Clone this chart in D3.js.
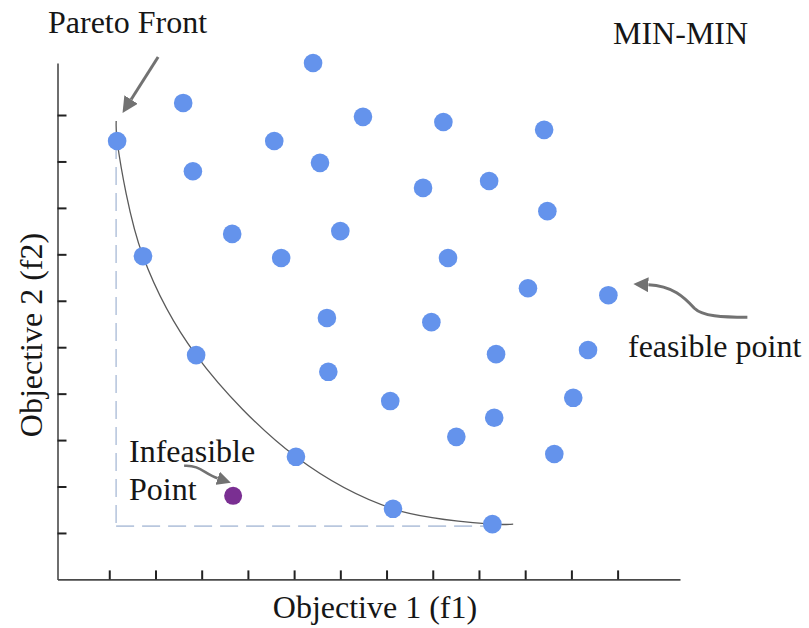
<!DOCTYPE html>
<html>
<head>
<meta charset="utf-8">
<script src="https://cdn.jsdelivr.net/npm/d3@7/dist/d3.min.js"></script>
<style>
  html, body { margin: 0; padding: 0; background: #ffffff; }
  svg { display: block; }
  text { font-family: "Liberation Serif", "Times New Roman", serif; fill: #161616; }
</style>
</head>
<body>
<svg id="chart" width="809" height="628"></svg>
<script>
// Pareto-optimal solutions (objective 1, objective 2)
const frontF1 = [1.17, 1.73, 2.88, 5.04, 7.14, 9.29];
const frontF2 = [9.44, 6.96, 4.83, 2.64, 1.52, 1.19];

// Ends of the drawn front curve, extending slightly beyond the solutions
const curveStartF1 = 1.15, curveStartF2 = 9.87;
const curveEndF1 = 9.74, curveEndF2 = 1.19;

// Dominated (feasible) solutions
const feasibleF1 = [5.41, 2.60, 6.49, 8.23, 10.41, 4.57, 5.56, 2.81, 7.79, 9.22,
                    10.48, 3.66, 6.00, 4.72, 8.33, 10.06, 11.80, 5.71, 7.97, 9.37,
                    11.36, 5.74, 7.08, 11.04, 9.33, 8.51, 10.63];
const feasibleF2 = [11.12, 10.26, 9.96, 9.85, 9.68, 9.44, 8.97, 8.79, 8.43, 8.58,
                    7.93, 7.44, 7.50, 6.92, 6.92, 6.27, 6.12, 5.63, 5.54, 4.85,
                    4.94, 4.47, 3.84, 3.91, 3.48, 3.07, 2.70];

// Infeasible solution
const infeasibleF1 = [3.68];
const infeasibleF2 = [1.80];

// Axis tick positions (unlabelled)
const xTicks = [1, 2, 3, 4, 5, 6, 7, 8, 9, 10, 11, 12];
const yTicks = [1, 2, 3, 4, 5, 6, 7, 8, 9, 10];

// Text
const xTitle = "Objective 1 (f1)";
const yTitle = "Objective 2 (f2)";
const frontLabel = "Pareto Front";
const senseLabel = "MIN-MIN";
const feasibleLabel = "feasible point";
const infeasibleLabel = ["Infeasible", "Point"];

const svg = d3.select("#chart");

const x = d3.scaleLinear().domain([-0.12, 13.35]).range([57.5, 680]);
const y = d3.scaleLinear().domain([0, 11.12]).range([579.4, 63]);

const BLUE = "#6493ec";
const PURPLE = "#7a2f92";
const ARROW = "#727272";

// Arrow heads
const defs = svg.append("defs");
function headMarker(id, len, half) {
  defs.append("marker")
    .attr("id", id)
    .attr("markerUnits", "userSpaceOnUse")
    .attr("viewBox", `0 ${-half} ${len} ${half * 2}`)
    .attr("refX", 0).attr("refY", 0)
    .attr("markerWidth", len).attr("markerHeight", half * 2)
    .attr("orient", "auto")
    .append("path")
    .attr("d", `M0,${-half}L${len},0L0,${half}Z`)
    .attr("fill", ARROW);
}
headMarker("headLarge", 16, 8);
headMarker("headMid", 15, 7.5);
headMarker("headSmall", 14, 7);

// Axes
const xAxis = d3.axisBottom(x).tickValues(xTicks).tickFormat("")
  .tickSizeInner(-9).tickSizeOuter(0);
const yAxis = d3.axisLeft(y).tickValues(yTicks).tickFormat("")
  .tickSizeInner(-9).tickSizeOuter(0);

const gx = svg.append("g").attr("transform", `translate(0,${y(0)})`).call(xAxis);
const gy = svg.append("g").attr("transform", `translate(${x(-0.12)},0)`).call(yAxis);
[gx, gy].forEach(g => {
  g.select(".domain").attr("stroke", "#4a4a4a").attr("stroke-width", 1.6);
  g.selectAll(".tick line").attr("stroke", "#222").attr("stroke-width", 2);
});

// Ideal-point guide lines (dashed)
const idealF1 = d3.min(frontF1), idealF2 = d3.min(frontF2);
const guide = svg.append("g")
  .attr("fill", "none")
  .attr("stroke", "#b9c7de")
  .attr("stroke-width", 1.6)
  .attr("stroke-dasharray", "18,8");
guide.append("line")
  .attr("x1", x(idealF1) - 1).attr("x2", x(idealF1) - 1)
  .attr("y1", y(d3.max(frontF2))).attr("y2", y(idealF2) + 2);
guide.append("line")
  .attr("x1", x(idealF1) - 1).attr("x2", x(d3.max(frontF1)))
  .attr("y1", y(idealF2) + 2).attr("y2", y(idealF2) + 2);

// Pareto front curve
const curvePts = [[curveStartF1, curveStartF2]]
  .concat(frontF1.map((v, i) => [v, frontF2[i]]))
  .concat([[curveEndF1, curveEndF2]]);
svg.append("path")
  .datum(curvePts)
  .attr("fill", "none")
  .attr("stroke", "#5a5a5a")
  .attr("stroke-width", 1.3)
  .attr("d", d3.line().x(d => x(d[0])).y(d => y(d[1])).curve(d3.curveCatmullRom.alpha(0.5)));

// Points
svg.append("g").selectAll("circle")
  .data(feasibleF1.map((v, i) => [v, feasibleF2[i]]))
  .join("circle")
  .attr("cx", d => x(d[0])).attr("cy", d => y(d[1]))
  .attr("r", 9.3).attr("fill", BLUE);

svg.append("g").selectAll("circle")
  .data(frontF1.map((v, i) => [v, frontF2[i]]))
  .join("circle")
  .attr("cx", d => x(d[0])).attr("cy", d => y(d[1]))
  .attr("r", 9.3).attr("fill", BLUE);

svg.append("g").selectAll("circle")
  .data(infeasibleF1.map((v, i) => [v, infeasibleF2[i]]))
  .join("circle")
  .attr("cx", d => x(d[0])).attr("cy", d => y(d[1]))
  .attr("r", 9).attr("fill", PURPLE);

// Annotation arrows, placed relative to the points they indicate
const arrows = svg.append("g").attr("fill", "none").attr("stroke", ARROW);

const fx0 = x(frontF1[0]), fy0 = y(frontF2[0]);
arrows.append("path")
  .attr("stroke-width", 3)
  .attr("marker-end", "url(#headLarge)")
  .attr("d", `M${fx0 + 41},${fy0 - 84} L${fx0 + 14},${fy0 - 41.5}`);

const ex = x(feasibleF1[16]), ey = y(feasibleF2[16]);
arrows.append("path")
  .attr("stroke-width", 3)
  .attr("marker-end", "url(#headMid)")
  .attr("d", `M${ex + 139},${ey + 22} C${ex + 114},${ey + 22} ${ex + 94},${ey + 21} ${ex + 86},${ey + 13}` +
             ` C${ex + 76},${ey + 2} ${ex + 64},${ey - 9.5} ${ex + 40},${ey - 10.5}`);

const ix = x(infeasibleF1[0]), iy = y(infeasibleF2[0]);
arrows.append("path")
  .attr("stroke-width", 2.6)
  .attr("marker-end", "url(#headSmall)")
  .attr("d", `M${ix - 49},${iy - 30} C${ix - 33},${iy - 31} ${ix - 29},${iy - 22} ${ix - 15.5},${iy - 17.5}`);

// Labels
const fs = 32;
svg.append("text").attr("x", 48).attr("y", 33).attr("font-size", fs).text(frontLabel);
svg.append("text").attr("x", 613).attr("y", 44).attr("font-size", fs).text(senseLabel);
svg.append("text").attr("x", 628).attr("y", 357).attr("font-size", fs).text(feasibleLabel);
svg.append("text").attr("x", 129).attr("y", 462).attr("font-size", fs).text(infeasibleLabel[0]);
svg.append("text").attr("x", 129).attr("y", 500).attr("font-size", fs).text(infeasibleLabel[1]);

svg.append("text")
  .attr("x", 375).attr("y", 618)
  .attr("text-anchor", "middle")
  .attr("font-size", fs)
  .text(xTitle);

svg.append("text")
  .attr("transform", "translate(42,335) rotate(-90)")
  .attr("text-anchor", "middle")
  .attr("font-size", fs)
  .text(yTitle);
</script>
</body>
</html>
